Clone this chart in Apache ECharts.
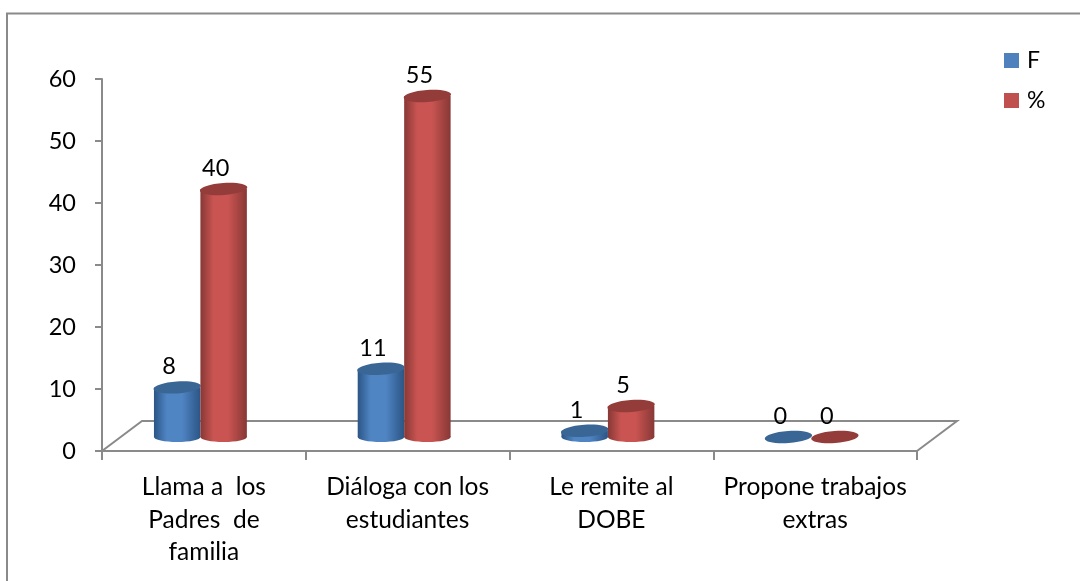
<!DOCTYPE html>
<html><head><meta charset="utf-8">
<style>html,body{margin:0;padding:0;background:#fff}#c{width:1080px;height:581px}</style>
<script src="https://cdn.jsdelivr.net/npm/echarts@6/dist/echarts.min.js"></script>
</head><body><div id="c"></div>
<script>
const categories = ['Llama a  los\nPadres  de\nfamilia', 'Diáloga con los\nestudiantes', 'Le remite al\nDOBE', 'Propone trabajos\nextras'];
const valuesF = [8, 11, 1, 0];
const valuesPct = [40, 55, 5, 0];
const yTicks = {min: 0, max: 60, interval: 10};
const FONT = 'Lato, "Open Sans", sans-serif';
const GRAY = '#8a8a8a';
const chart = echarts.init(document.getElementById('c'));

function stops(edge, mid) {
  return {type: 'linear', x: 0, y: 0, x2: 1, y2: 0, colorStops: [
    {offset: 0, color: edge}, {offset: 0.28, color: mid}, {offset: 0.6, color: mid}, {offset: 1, color: edge}
  ]};
}
function cylinder(slot, edge, mid, top) {
  return function (params, api) {
    const i = api.value(0), v = api.value(1);
    const band = api.size([1, 0])[0];
    const w = band * 0.228;
    const p = api.coord([i, v]);
    const base = api.coord([i, 0]);
    const cx = p[0] - band * 0.017 + slot * w / 2;
    const dy = 14;
    const topY = p[1] - dy, baseY = base[1] - dy;
    const ry = 6;
    const children = [];
    if (v > 0) {
      children.push({type: 'ellipse', shape: {cx: cx, cy: baseY, rx: w / 2, ry: 5}, style: {fill: stops(edge, mid)}});
      children.push({type: 'rect', shape: {x: cx - w / 2, y: topY, width: w, height: baseY - topY}, style: {fill: stops(edge, mid)}});
    }
    children.push({type: 'ellipse', shape: {cx: cx, cy: topY, rx: w / 2 + 0.5, ry: ry},
      rotation: 0.07, originX: cx, originY: topY, style: {fill: top}});
    children.push({type: 'text', style: {text: String(v), x: cx - 8, y: topY - 20.5, fill: '#000',
      font: '23.5px ' + FONT, textAlign: 'center', textVerticalAlign: 'middle'}});
    return {type: 'group', children: children};
  };
}
function floor(params, api) {
  const g = params.coordSys;
  const dx = 40, dy = 30, y = g.y + g.height;
  return {type: 'polyline', shape: {points: [
    [g.x, y], [g.x + dx, y - dy], [g.x + g.width + dx, y - dy], [g.x + g.width, y]
  ]}, style: {fill: 'none', stroke: GRAY, lineWidth: 2}};
}
chart.setOption({
  animation: false,
  backgroundColor: '#fff',
  grid: {left: 102, right: 163, top: 79, bottom: 130},
  graphic: [{type: 'polyline', shape: {points: [[7, 581], [7, 13.5], [1080, 13.5]]},
    style: {fill: 'none', stroke: GRAY, lineWidth: 2}, silent: true}],
  legend: {orient: 'vertical', left: 999, top: 44, icon: 'rect', itemWidth: 15, itemHeight: 15, itemGap: 17,
    textStyle: {fontFamily: FONT, fontSize: 23, color: '#000', padding: [0, 0, 0, 3]}, data: ['F', '%']},
  xAxis: {type: 'category', data: categories,
    axisLine: {lineStyle: {color: GRAY, width: 2}},
    axisTick: {show: true, length: 9, alignWithLabel: false, lineStyle: {color: GRAY, width: 2}},
    axisLabel: {color: '#000', fontFamily: FONT, fontSize: 24.5, lineHeight: 32.5, margin: 20, interval: 0}},
  yAxis: {type: 'value', min: yTicks.min, max: yTicks.max, interval: yTicks.interval,
    splitLine: {show: false},
    axisLine: {show: true, lineStyle: {color: GRAY, width: 2}},
    axisTick: {show: true, length: 7, lineStyle: {color: GRAY, width: 2}},
    axisLabel: {color: '#000', fontFamily: FONT, fontSize: 23.5, margin: 26}},
  series: [
    {type: 'custom', name: 'floor', silent: true, data: [[0, 0]], renderItem: floor, z: 1, clip: false},
    {type: 'custom', name: 'F', z: 2, clip: false, itemStyle: {color: '#4f81bd'},
      data: valuesF.map((v, i) => [i, v]), encode: {x: 0, y: 1},
      renderItem: cylinder(-1, '#2b5585', '#5085c4', '#3a6696')},
    {type: 'custom', name: '%', z: 3, clip: false, itemStyle: {color: '#c0504d'},
      data: valuesPct.map((v, i) => [i, v]), encode: {x: 0, y: 1},
      renderItem: cylinder(1, '#873836', '#c95451', '#943c3a')}
  ]
});
</script></body></html>
